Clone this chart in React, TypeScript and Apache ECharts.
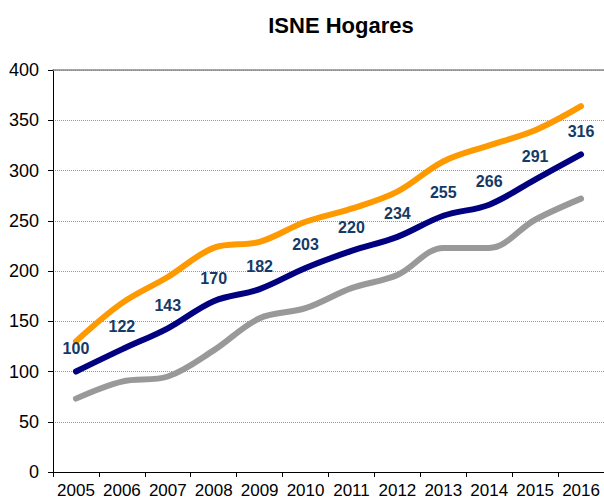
import React, { useEffect, useRef } from "react";
import * as echarts from "echarts";

const years = ["2005", "2006", "2007", "2008", "2009", "2010", "2011", "2012", "2013", "2014", "2015", "2016"];
const orangeValues = [130, 168, 194, 223, 229, 249, 262, 279, 309, 325, 340, 364];
const navyValues = [100, 122, 143, 170, 182, 203, 220, 234, 255, 266, 291, 316];
const grayValues = [73, 90, 95, 121, 153, 163, 183, 196, 223, 223, 251, 272];

const FONT = "Liberation Sans, Arial, sans-serif";

export default function App() {
  const ref = useRef<HTMLDivElement>(null);
  useEffect(() => {
    if (!ref.current) return;
    const chart = echarts.init(ref.current, null, { renderer: "svg" });
    const lineStyle = (color: string) => ({ color, width: 6, cap: "round" as const, join: "round" as const });
    chart.setOption({
      animation: false,
      backgroundColor: "#ffffff",
      title: {
        text: "ISNE Hogares",
        left: 336,
        top: 9,
        textAlign: "center",
        textStyle: { fontFamily: FONT, fontSize: 22, fontWeight: "bold", color: "#000" },
      },
      grid: { left: 53, top: 70, width: 552, height: 402, containLabel: false },
      xAxis: [
        {
          type: "category",
          data: years,
          boundaryGap: true,
          axisLine: { lineStyle: { color: "#000", width: 1 } },
          axisTick: { show: true, length: 5, lineStyle: { color: "#000" } },
          axisLabel: { fontFamily: FONT, fontSize: 17, color: "#000", margin: 10, interval: 0 },
          splitLine: { show: false },
        },
        {
          type: "category",
          data: years,
          position: "top",
          axisLine: { show: true, onZero: false, lineStyle: { color: "#888", width: 1.5 } },
          axisTick: { show: false },
          axisLabel: { show: false },
        },
      ],
      yAxis: {
        type: "value",
        min: 0,
        max: 400,
        interval: 50,
        axisLine: { show: true, lineStyle: { color: "#000", width: 1 } },
        axisTick: { show: true, length: 5, lineStyle: { color: "#000" } },
        axisLabel: { fontFamily: FONT, fontSize: 18, color: "#000", margin: 14 },
        splitLine: { show: true, lineStyle: { color: "#999", type: "dotted", width: 1 } },
      },
      series: [
        {
          type: "line",
          data: grayValues,
          smooth: 0.35,
          showSymbol: false,
          symbol: "none",
          lineStyle: lineStyle("#999999"),
          z: 2,
        },
        {
          type: "line",
          data: orangeValues,
          smooth: 0.35,
          showSymbol: false,
          symbol: "none",
          lineStyle: lineStyle("#FF9900"),
          z: 3,
        },
        {
          type: "line",
          data: navyValues,
          smooth: 0.35,
          symbol: "circle",
          symbolSize: 2,
          showSymbol: true,
          itemStyle: { color: "#000080" },
          lineStyle: lineStyle("#000080"),
          label: {
            show: true,
            position: "top",
            distance: 14,
            fontFamily: FONT,
            fontSize: 16,
            fontWeight: "bold",
            color: "#153A66",
          },
          labelLayout: { hideOverlap: false },
          z: 4,
        },
      ],
    });
    return () => chart.dispose();
  }, []);
  return <div ref={ref} style={{ position: "absolute", left: 0, top: 0, width: 604, height: 501 }} />;
}
